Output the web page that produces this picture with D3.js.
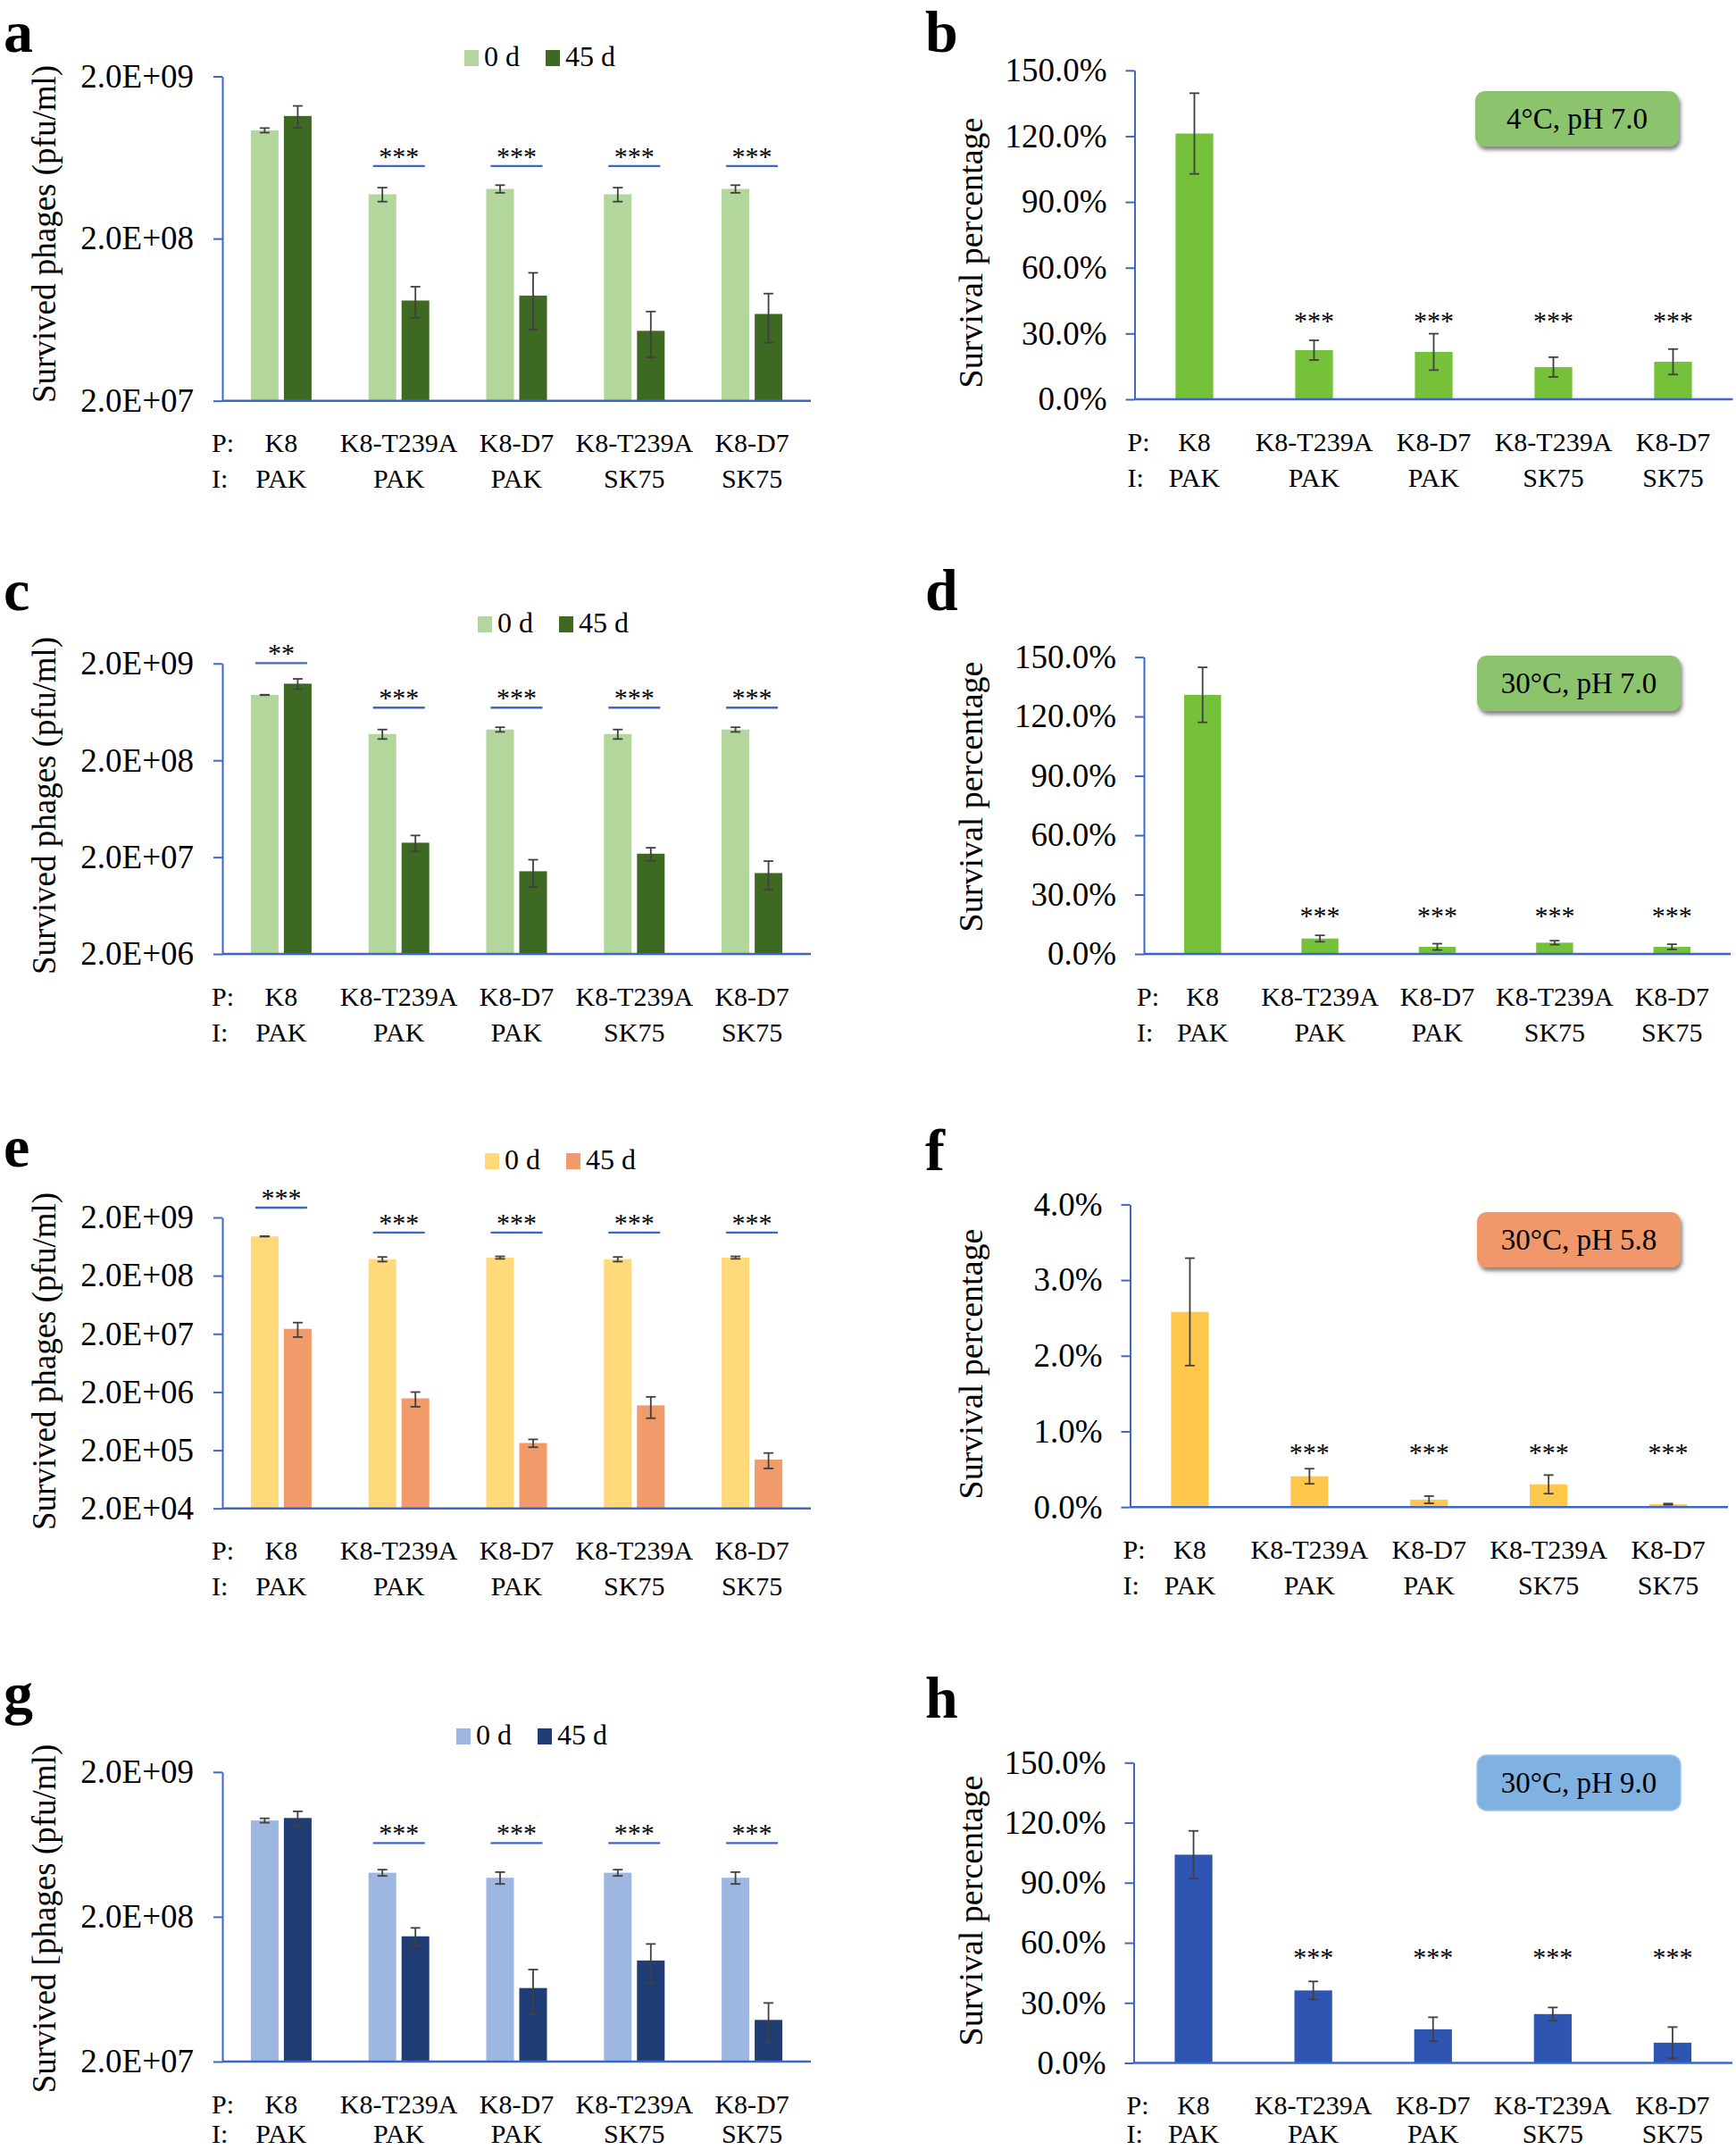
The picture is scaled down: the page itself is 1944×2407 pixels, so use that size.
<!DOCTYPE html>
<html><head><meta charset="utf-8">
<script src="https://cdn.jsdelivr.net/npm/d3@7"></script>
<style>
body{margin:0;background:#fff}
svg{display:block}
text{font-family:"Liberation Serif","Times New Roman",Times,serif;fill:#000}
</style>
</head><body>
<svg id="fig" width="1944" height="2407"></svg>
<script>
// ---------------- DATA ----------------
const categoriesP = ["K8", "K8-T239A", "K8-D7", "K8-T239A", "K8-D7"];
const categoriesI = ["PAK", "PAK", "PAK", "SK75", "SK75"];
const seriesNames = ["0 d", "45 d"];

// Panel a: 4°C, pH 7.0 (pfu/ml)
const a_day0    = [9.3e8, 3.75e8, 4.05e8, 3.75e8, 4.05e8];
const a_day0sd  = [3.0e7, 3.7e7, 2.2e7, 3.7e7, 2.2e7];
const a_day45   = [1.14e9, 8.3e7, 8.9e7, 5.4e7, 6.86e7];
const a_day45sd = [1.75e8, 1.8e7, 3.4e7, 1.7e7, 2.3e7];
const a_sig     = ["", "***", "***", "***", "***"];
const a_ticks   = [2e7, 2e8, 2e9];

// Panel b: survival %, 4°C pH 7.0
const b_surv  = [121.2, 22.4, 21.6, 14.7, 17.1];
const b_sd    = [18.4, 4.5, 8.3, 4.5, 5.8];
const b_sig   = ["", "***", "***", "***", "***"];
const b_ticks = [0, 30, 60, 90, 120, 150];
const b_cond  = "4°C, pH 7.0";

// Panel c: 30°C, pH 7.0
const c_day0    = [9.47e8, 3.74e8, 4.16e8, 3.74e8, 4.16e8];
const c_day0sd  = [5e6, 4.2e7, 2.3e7, 4.2e7, 2.3e7];
const c_day45   = [1.237e9, 2.82e7, 1.43e7, 2.17e7, 1.37e7];
const c_day45sd = [1.5e8, 5.3e6, 4.5e6, 3.3e6, 4.5e6];
const c_sig     = ["**", "***", "***", "***", "***"];
const c_ticks   = [2e6, 2e7, 2e8, 2e9];

// Panel d
const d_surv  = [130.9, 7.8, 3.6, 5.7, 3.6];
const d_sd    = [13.9, 1.6, 1.6, 1.0, 1.3];
const d_sig   = ["", "***", "***", "***", "***"];
const d_ticks = [0, 30, 60, 90, 120, 150];
const d_cond  = "30°C, pH 7.0";

// Panel e: 30°C, pH 5.8
const e_day0    = [9.46e8, 3.84e8, 4.09e8, 3.84e8, 4.09e8];
const e_day0sd  = [8e6, 3.5e7, 2.0e7, 3.5e7, 2.0e7];
const e_day45   = [2.44e7, 1.556e6, 2.66e5, 1.18e6, 1.38e5];
const e_day45sd = [6.8e6, 4.4e5, 4.1e4, 4.7e5, 4.1e4];
const e_sig     = ["***", "***", "***", "***", "***"];
const e_ticks   = [2e4, 2e5, 2e6, 2e7, 2e8, 2e9];

// Panel f
const f_surv  = [2.58, 0.407, 0.097, 0.30, 0.038];
const f_sd    = [0.71, 0.10, 0.048, 0.123, 0.008];
const f_sig   = ["", "***", "***", "***", "***"];
const f_ticks = [0, 1, 2, 3, 4];
const f_cond  = "30°C, pH 5.8";

// Panel g: 30°C, pH 9.0
const g_day0    = [9.25e8, 4.03e8, 3.72e8, 4.03e8, 3.72e8];
const g_day0sd  = [3.2e7, 2.0e7, 3.5e7, 2.0e7, 3.5e7];
const g_day45   = [9.62e8, 1.466e8, 6.44e7, 9.98e7, 3.88e7];
const g_day45sd = [1.08e8, 2.1e7, 2.2e7, 3.0e7, 1.2e7];
const g_sig     = ["", "***", "***", "***", "***"];
const g_ticks   = [2e7, 2e8, 2e9];

// Panel h
const h_surv  = [104.0, 36.2, 16.8, 24.4, 10.1];
const h_sd    = [11.9, 4.5, 6.0, 3.3, 7.8];
const h_sig   = ["", "***", "***", "***", "***"];
const h_ticks = [0, 30, 60, 90, 120, 150];
const h_cond  = "30°C, pH 9.0";

// ---------------- STYLE / LAYOUT ----------------
const AXIS = "#3F66C6";
const ERR = "#404040";
const svg = d3.select("#fig");
const defs = svg.append("defs");
const flt = defs.append("filter").attr("id", "shadow").attr("x", "-10%").attr("y", "-20%").attr("width", "130%").attr("height", "160%");
flt.append("feDropShadow").attr("dx", 2).attr("dy", 4).attr("stdDeviation", 2.2).attr("flood-color", "#333").attr("flood-opacity", 0.6);

function fmtE(v) {
  const e = Math.round(Math.log10(v / 2));
  const m = v / Math.pow(10, e);
  return m.toFixed(1) + "E+" + String(e).padStart(2, "0");
}

function panelLetter(t, x, y) {
  svg.append("text").attr("x", x).attr("y", y).attr("font-size", 66).attr("font-weight", "bold").text(t);
}

function yTitle(t, x, cy, fs) {
  svg.append("text").attr("transform", `translate(${x},${cy}) rotate(-90)`)
    .attr("text-anchor", "middle").attr("font-size", fs).text(t);
}

function catLabels(xs, axisX, yBot, row2) {
  const g = svg.append("g").attr("font-size", 30);
  g.append("text").attr("x", axisX).attr("y", yBot + 57.5).text("P:");
  g.append("text").attr("x", axisX).attr("y", yBot + row2).text("I:");
  categoriesP.forEach((c, i) => g.append("text").attr("x", xs(i)).attr("y", yBot + 57.5).attr("text-anchor", "middle").text(c));
  categoriesI.forEach((c, i) => g.append("text").attr("x", xs(i)).attr("y", yBot + row2).attr("text-anchor", "middle").text(c));
}

function errBar(g, cx, yHi, yLo) {
  g.append("line").attr("x1", cx).attr("x2", cx).attr("y1", yHi).attr("y2", yLo).attr("stroke", ERR).attr("stroke-width", 1.8);
  [yHi, yLo].forEach(yy => g.append("line").attr("x1", cx - 5.5).attr("x2", cx + 5.5).attr("y1", yy).attr("y2", yy).attr("stroke", ERR).attr("stroke-width", 1.8));
}

function styleAxis(ag, fs) {
  ag.select(".domain").attr("stroke", AXIS).attr("stroke-width", 2);
  ag.selectAll(".tick line").attr("stroke", AXIS).attr("stroke-width", 2);
  ag.selectAll(".tick text").attr("font-size", fs).attr("fill", "#000")
    .style("font-family", '"Liberation Serif","Times New Roman",serif');
}

function leftPanel(L, d0, d0sd, d45, d45sd, sig, ticks, colors) {
  const g = svg.append("g");
  const x0 = d3.scaleBand().domain(d3.range(5)).range([L.x0, L.x1]).paddingInner(0.484).paddingOuter(0.242);
  const x1 = d3.scaleBand().domain([0, 1]).range([0, x0.bandwidth()]).paddingInner(0.162);
  const y = d3.scaleLog().domain([ticks[0], ticks[ticks.length - 1]]).range([L.yBot, L.yTop]);
  const ag = g.append("g").attr("transform", `translate(${L.x0},0)`)
    .call(d3.axisLeft(y).tickValues(ticks).tickFormat(fmtE).tickSize(10).tickSizeOuter(0).tickPadding(22));
  styleAxis(ag, 37);
  const series = [[d0, d0sd], [d45, d45sd]];
  series.forEach((s, si) => {
    s[0].forEach((v, i) => {
      const bx = x0(i) + x1(si);
      g.append("rect").attr("x", bx).attr("width", x1.bandwidth())
        .attr("y", y(v)).attr("height", L.yBot - y(v)).attr("fill", colors[si]);
    });
  });
  series.forEach((s, si) => {
    s[0].forEach((v, i) => {
      const cx = x0(i) + x1(si) + x1.bandwidth() / 2;
      errBar(g, cx, y(v + s[1][i]), y(v - s[1][i]));
    });
  });
  g.append("line").attr("x1", L.x0).attr("x2", L.x1).attr("y1", L.yBot).attr("y2", L.yBot).attr("stroke", AXIS).attr("stroke-width", 2.4);
  sig.forEach((s, i) => {
    if (!s) return;
    const cx = x0(i) + x0.bandwidth() / 2;
    const ly = y(L.sigLevel[i]);
    g.append("line").attr("x1", cx - 29).attr("x2", cx + 29).attr("y1", ly).attr("y2", ly).attr("stroke", AXIS).attr("stroke-width", 2.4);
    g.append("text").attr("x", cx).attr("y", ly - 1).attr("text-anchor", "middle").attr("font-size", 30).text(s);
  });
  const lg = g.append("g").attr("font-size", 32);
  [0, 1].forEach(si => {
    const ox = L.legX + (si === 0 ? 0 : 91);
    lg.append("rect").attr("x", ox).attr("y", L.legY - 18).attr("width", 16).attr("height", 18).attr("fill", colors[si]);
    lg.append("text").attr("x", ox + 22).attr("y", L.legY).text(seriesNames[si]);
  });
  catLabels(i => x0(i) + x0.bandwidth() / 2, L.x0 - 12, L.yBot, L.row2 || 97.5);
}

function rightPanel(R, vals, sd, sig, ticks, cond, color, box) {
  const g = svg.append("g");
  const x = d3.scaleBand().domain(d3.range(5)).range([R.x0, R.x1]).paddingInner(0.685).paddingOuter(0.3425);
  const y = d3.scaleLinear().domain([ticks[0], ticks[ticks.length - 1]]).range([R.yBot, R.yTop]);
  const ag = g.append("g").attr("transform", `translate(${R.x0},0)`)
    .call(d3.axisLeft(y).tickValues(ticks).tickFormat(v => v.toFixed(1) + "%").tickSize(10).tickSizeOuter(0).tickPadding(21));
  styleAxis(ag, 37);
  vals.forEach((v, i) => {
    g.append("rect").attr("x", x(i)).attr("width", x.bandwidth()).attr("y", y(v)).attr("height", R.yBot - y(v)).attr("fill", color);
  });
  vals.forEach((v, i) => {
    const cx = x(i) + x.bandwidth() / 2;
    errBar(g, cx, y(v + sd[i]), y(Math.max(0, v - sd[i])));
  });
  g.append("line").attr("x1", R.x0).attr("x2", R.x1).attr("y1", R.yBot).attr("y2", R.yBot).attr("stroke", AXIS).attr("stroke-width", 2.4);
  sig.forEach((s, i) => {
    if (!s) return;
    const cx = x(i) + x.bandwidth() / 2;
    g.append("text").attr("x", cx).attr("y", y(R.sigAt) + 14).attr("text-anchor", "middle").attr("font-size", 30).text(s);
  });
  const bg = g.append("g");
  bg.append("rect").attr("x", R.boxX).attr("y", R.boxY).attr("width", 228).attr("height", 62).attr("rx", 11)
    .attr("fill", box.fill).attr("stroke", box.stroke || "none").attr("stroke-width", 1.5)
    .attr("filter", box.shadow ? "url(#shadow)" : null);
  bg.append("text").attr("x", R.boxX + 114).attr("y", R.boxY + 42).attr("text-anchor", "middle").attr("font-size", 33).text(cond);
  catLabels(i => x(i) + x.bandwidth() / 2, R.x0 - 8, R.yBot, R.row2 || 97.5);
}

// ---------------- DRAW ----------------
// row 1
panelLetter("a", 4, 58);
panelLetter("b", 1036, 58);
yTitle("Survived phages (pfu/ml)", 62, 262, 37);
yTitle("Survival percentage", 1100, 283, 38);
leftPanel({x0: 249, x1: 908, yTop: 85.5, yBot: 448.7, legX: 520, legY: 74,
           sigLevel: [null, 5.6e8, 5.6e8, 5.6e8, 5.6e8]},
          a_day0, a_day0sd, a_day45, a_day45sd, a_sig, a_ticks, ["#B3D69C", "#3E6922"]);
rightPanel({x0: 1270.5, x1: 1940.5, yTop: 78.8, yBot: 447, sigAt: 37.5, boxX: 1652, boxY: 102},
           b_surv, b_sd, b_sig, b_ticks, b_cond, "#76C13A", {fill: "#8CC46E", shadow: true});

// row 2
panelLetter("c", 4, 683);
panelLetter("d", 1036, 683);
yTitle("Survived phages (pfu/ml)", 62, 902, 37);
yTitle("Survival percentage", 1100, 892, 38);
leftPanel({x0: 249, x1: 908, yTop: 742.8, yBot: 1068, legX: 535, legY: 708,
           sigLevel: [2.02e9, 7.0e8, 7.0e8, 7.0e8, 7.0e8]},
          c_day0, c_day0sd, c_day45, c_day45sd, c_sig, c_ticks, ["#B3D69C", "#3E6922"]);
rightPanel({x0: 1281, x1: 1938, yTop: 735.6, yBot: 1068, sigAt: 21.1, boxX: 1654, boxY: 734},
           d_surv, d_sd, d_sig, d_ticks, d_cond, "#76C13A", {fill: "#8CC46E", shadow: true});

// row 3
panelLetter("e", 4, 1306);
panelLetter("f", 1036, 1310);
yTitle("Survived phages (pfu/ml)", 62, 1524, 37);
yTitle("Survival percentage", 1100, 1527, 38);
leftPanel({x0: 249, x1: 908, yTop: 1363, yBot: 1688.7, legX: 543, legY: 1309,
           sigLevel: [2.95e9, 1.1e9, 1.1e9, 1.1e9, 1.1e9]},
          e_day0, e_day0sd, e_day45, e_day45sd, e_sig, e_ticks, ["#FFD97A", "#F09B69"]);
rightPanel({x0: 1265.5, x1: 1935, yTop: 1348.4, yBot: 1687.2, sigAt: 0.767, boxX: 1654, boxY: 1357},
           f_surv, f_sd, f_sig, f_ticks, f_cond, "#FFC84A", {fill: "#F0986A", shadow: true});

// row 4
panelLetter("g", 4, 1918);
panelLetter("h", 1036, 1923);
yTitle("Survived [phages (pfu/ml)", 62, 2148, 37);
yTitle("Survival percentage", 1100, 2139, 38);
leftPanel({x0: 249, x1: 908, yTop: 1983.8, yBot: 2308, legX: 511, legY: 1953, row2: 91,
           sigLevel: [null, 6.46e8, 6.46e8, 6.46e8, 6.46e8]},
          g_day0, g_day0sd, g_day45, g_day45sd, g_sig, g_ticks, ["#9DB7E0", "#1F3C74"]);
rightPanel({x0: 1269.5, x1: 1940, yTop: 1973.3, yBot: 2309.5, sigAt: 54.8, boxX: 1654, boxY: 1965, row2: 89.5},
           h_surv, h_sd, h_sig, h_ticks, h_cond, "#2F55B3", {fill: "#7FB2E0", stroke: "#9CC4EA", shadow: false});
</script>
</body></html>
